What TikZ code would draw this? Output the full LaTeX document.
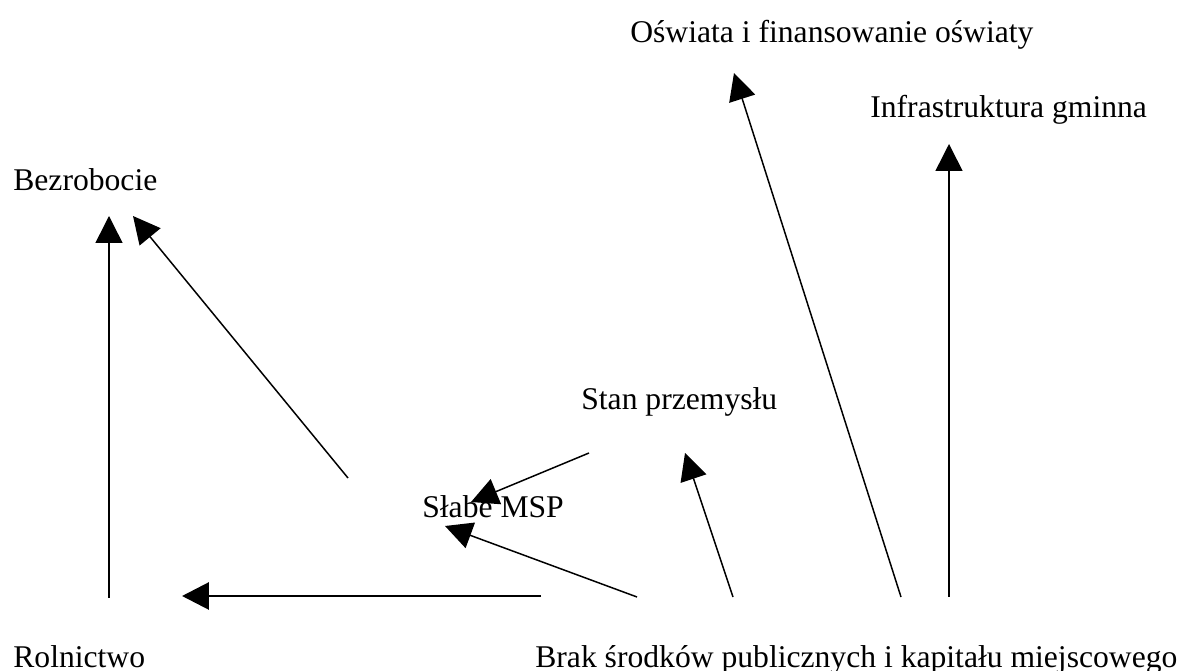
\documentclass[tikz,border=0pt]{standalone}
\usepackage{fontspec}
\setmainfont{Liberation Serif}
\usepackage{tikz}
\usetikzlibrary{arrows.meta}

\begin{document}
\begin{tikzpicture}[>={Triangle[length=0.54cm,width=0.54cm]}, x=0.02cm, y=-0.02cm,
    lbl/.style={anchor=base west, inner sep=0pt, font=\fontsize{18}{22}\selectfont},
    thin arr/.style={->, line width=0.85pt},
    thick arr/.style={->, line width=1.7pt}]

    \useasboundingbox (0,0) rectangle (1183,671);

    \draw(630,43) node[lbl] (O) {Oświata i finansowanie oświaty};
    \draw(870,118) node[lbl] (I) {Infrastruktura gminna};
    \draw(13,191) node[lbl] (B) {Bezrobocie};
    \draw(581,410) node[lbl] (P) {Stan przemysłu};
    \draw(422,518) node[lbl] (S) {Słabe MSP};
    \draw(13,667) node[lbl] (R) {Rolnictwo};
    \draw(535,667) node[lbl] (K) {Brak środków publicznych i kapitału miejscowego};

    \draw[thin arr] ([shift={(96,-69)}]R.base west) to ([shift={(96,25)}]B.base west);
    \draw[thin arr] ([shift={(-74,-40)}]S.base west) to ([shift={(120,25)}]B.base west);
    \draw[thick arr] ([shift={(6,-71)}]K.base west) to ([shift={(169,-71)}]R.base west);
    \draw[thin arr] ([shift={(8,43)}]P.base west) to ([shift={(49,-16)}]S.base west);
    \draw[thin arr] ([shift={(102,-70)}]K.base west) to ([shift={(23,8)}]S.base west);
    \draw[thin arr] ([shift={(198,-70)}]K.base west) to ([shift={(104,43)}]P.base west);
    \draw[thin arr] ([shift={(366,-70)}]K.base west) to ([shift={(104,30)}]O.base west);
    \draw[thin arr] ([shift={(414,-70)}]K.base west) to ([shift={(79,26)}]I.base west);

    \end{tikzpicture}
\end{document}
